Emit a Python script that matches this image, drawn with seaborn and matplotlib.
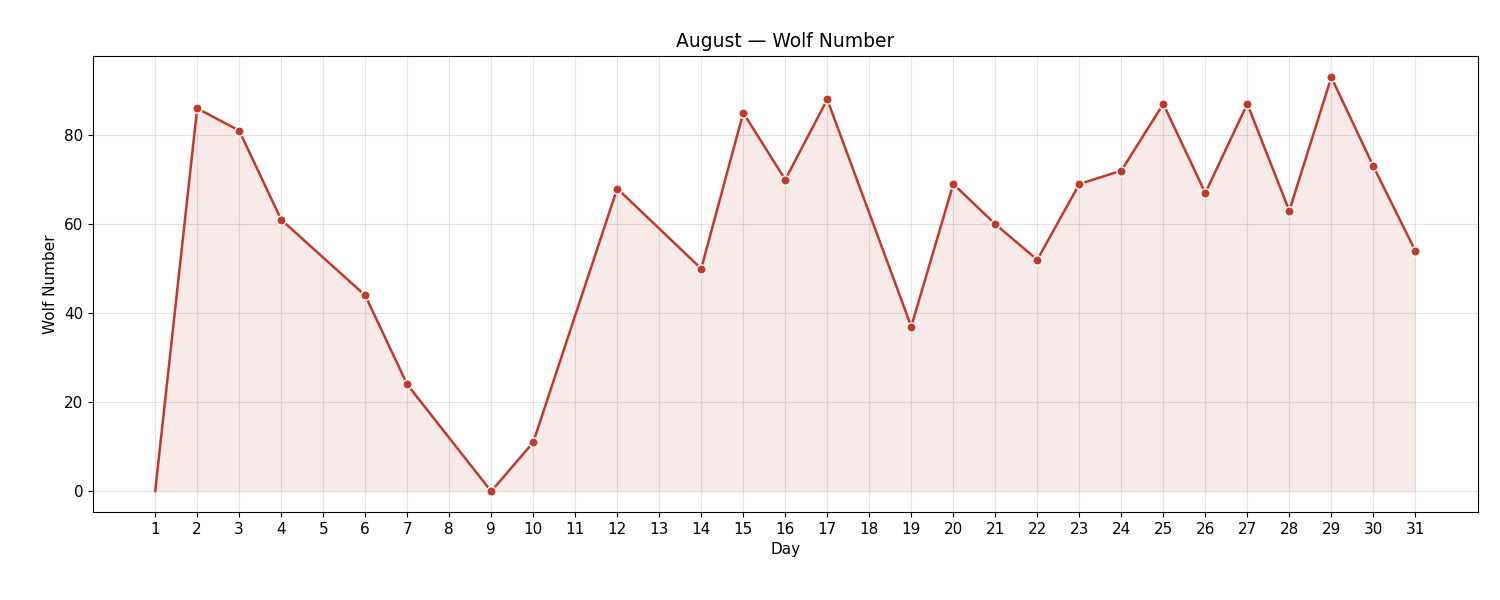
import matplotlib
matplotlib.use("Agg")
import matplotlib.pyplot as plt
import seaborn as sns
import pandas as pd

days = [1, 2, 3, 4, 6, 7, 9, 10, 12, 14, 15, 16, 17, 19, 20, 21, 22, 23, 24, 25, 26, 27, 28, 29, 30, 31]
wolf = [0, 86, 81, 61, 44, 24, 0, 11, 68, 50, 85, 70, 88, 37, 69, 60, 52, 69, 72, 87, 67, 87, 63, 93, 73, 54]
tick_days = list(range(1, 32))

df = pd.DataFrame({"Day": days, "Wolf Number": wolf})
color = "#c0392b"

sns.set_style("ticks")
plt.rcParams.update({"text.color": "black", "axes.labelcolor": "black",
                     "xtick.color": "black", "ytick.color": "black",
                     "axes.edgecolor": "black"})
fig, ax = plt.subplots(figsize=(15, 6), dpi=100)
ax.fill_between(df["Day"], df["Wolf Number"], 0, color=color, alpha=0.1, linewidth=0)
sns.lineplot(data=df, x="Day", y="Wolf Number", color=color, linewidth=1.8, ax=ax)
sns.scatterplot(data=df.iloc[1:], x="Day", y="Wolf Number", color=color, s=45,
                edgecolor="white", linewidth=1, zorder=3, ax=ax)
ax.set_xticks(tick_days)
ax.set_xticklabels([str(d) for d in tick_days], fontsize=11)
ax.tick_params(axis="y", labelsize=11)
ax.set_xlim(-0.48, 32.48)
ax.set_ylim(-4.6, 97.8)
ax.grid(True, color="#dddddd", linewidth=0.8, alpha=0.8)
ax.set_axisbelow(True)
ax.set_xlabel("Day", fontsize=11)
ax.set_ylabel("Wolf Number", fontsize=11)
ax.set_title("August — Wolf Number", fontsize=13.5)
fig.subplots_adjust(left=0.062, right=0.985, top=0.907, bottom=0.147)
fig.savefig("out.png", dpi=100)
